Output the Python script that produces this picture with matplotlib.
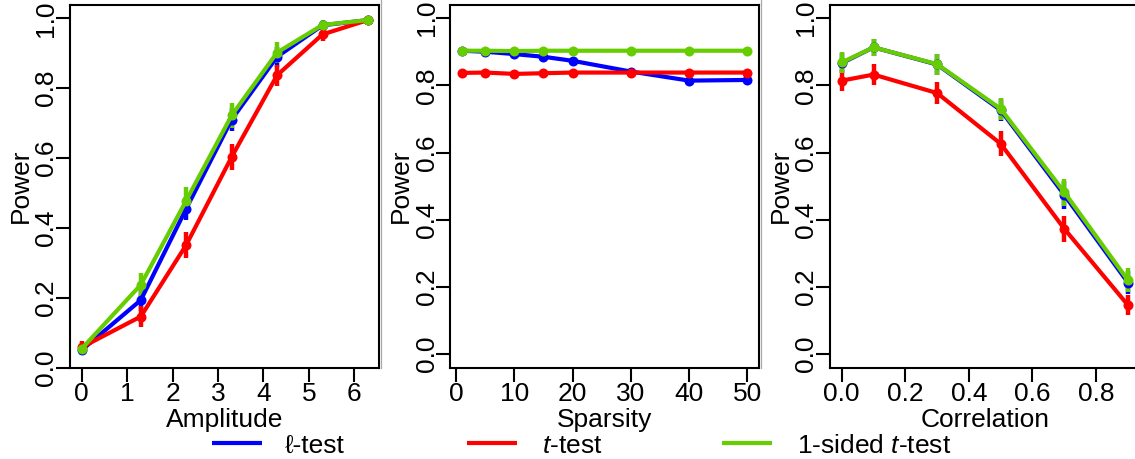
import matplotlib
matplotlib.use('Agg')
import matplotlib.pyplot as plt
from matplotlib.lines import Line2D
from matplotlib.ticker import FixedLocator, StrMethodFormatter

plt.rcParams['font.family'] = ['Liberation Sans', 'DejaVu Sans']
plt.rcParams['mathtext.fontset'] = 'custom'
plt.rcParams['mathtext.it'] = 'Liberation Sans:italic'
plt.rcParams['mathtext.rm'] = 'Liberation Sans'

# ---------------- data ----------------
series_names = [r'ℓ-test', r'$t$-test', r'1-sided $t$-test']
series_colors = ['#0000FF', '#FF0000', '#66CD00']

amp_x = [0, 1.3, 2.3, 3.3, 4.3, 5.3, 6.3]
amp_ell = [0.050, 0.193, 0.455, 0.710, 0.890, 0.980, 0.995]
amp_t = [0.058, 0.146, 0.351, 0.603, 0.837, 0.954, 0.995]
amp_one = [0.054, 0.237, 0.478, 0.722, 0.902, 0.981, 0.995]
amp_ell_err = [0.015, 0.030, 0.033, 0.034, 0.028, 0.012, 0.005]
amp_t_err = [0.018, 0.031, 0.038, 0.038, 0.030, 0.018, 0.005]
amp_one_err = [0.016, 0.033, 0.038, 0.036, 0.029, 0.014, 0.005]

sp_x = [1, 5, 10, 15, 20, 30, 40, 50]
sp_ell = [0.903, 0.900, 0.893, 0.885, 0.873, 0.841, 0.814, 0.816]
sp_t = [0.837, 0.838, 0.834, 0.836, 0.838, 0.838, 0.838, 0.838]
sp_one = [0.903, 0.903, 0.902, 0.903, 0.903, 0.903, 0.903, 0.903]

cor_x = [0.0, 0.1, 0.3, 0.5, 0.7, 0.9]
cor_ell = [0.866, 0.913, 0.862, 0.726, 0.474, 0.213]
cor_t = [0.814, 0.832, 0.777, 0.626, 0.373, 0.146]
cor_one = [0.868, 0.913, 0.863, 0.730, 0.482, 0.220]
cor_ell_err = [0.030, 0.025, 0.031, 0.033, 0.042, 0.035]
cor_t_err = [0.031, 0.031, 0.034, 0.037, 0.038, 0.030]
cor_one_err = [0.030, 0.025, 0.031, 0.033, 0.040, 0.035]

amp_ticks = [0, 1, 2, 3, 4, 5, 6]
sp_ticks = [0, 10, 20, 30, 40, 50]
cor_ticks = [0.0, 0.2, 0.4, 0.6, 0.8]
power_ticks = [0.0, 0.2, 0.4, 0.6, 0.8, 1.0]

# ---------------- layout ----------------
W, H = 1135, 459
DPI = 100
FS = 19
LW = 3.0
fig = plt.figure(figsize=(W / DPI, H / DPI), dpi=DPI)

TOP_PX, BOT_PX = 4.7, 367.5


def add_axes_px(left_px, right_px):
    return fig.add_axes([left_px / W, 1 - BOT_PX / H,
                         (right_px - left_px) / W, (BOT_PX - TOP_PX) / H])


def style(ax, xlabel, xticks, xfmt, xlim, ylim, left_px, right_px):
    ax.set_xlim(*xlim)
    ax.set_ylim(*ylim)
    ax.xaxis.set_major_locator(FixedLocator(xticks))
    ax.xaxis.set_major_formatter(StrMethodFormatter(xfmt))
    ax.yaxis.set_major_locator(FixedLocator(power_ticks))
    ax.yaxis.set_major_formatter(StrMethodFormatter('{x:.1f}'))
    for sp in ax.spines.values():
        sp.set_linewidth(1.5)
    ax.tick_params(axis='both', direction='out', length=10, width=1.5,
                   labelsize=FS, colors='black')
    ax.tick_params(axis='x', pad=0.5)
    ax.tick_params(axis='y', pad=-1.5, labelrotation=90)
    for lab in ax.get_yticklabels():
        lab.set_va('center')
    ax.set_xlabel(xlabel, fontsize=FS)
    ax.set_ylabel('Power', fontsize=FS)
    w_px = right_px - left_px
    h_px = BOT_PX - TOP_PX
    ax.xaxis.set_label_coords(0.5, (BOT_PX - 426.7) / h_px)
    ax.xaxis.label.set_va('baseline')
    ax.yaxis.set_label_coords(-37.5 / w_px, 0.5)
    ax.yaxis.label.set_va('bottom')


def draw(ax, x, ys, errs):
    for y, e, c in zip(ys, errs, series_colors):
        if e is None:
            ax.plot(x, y, '-o', color=c, lw=LW, ms=7.2, mew=0, clip_on=False)
        else:
            ax.errorbar(x, y, yerr=e, fmt='-o', color=c, lw=LW, ms=7.2, mew=0,
                        elinewidth=3.2, capsize=0, clip_on=False)


def xlim_r(x):
    r = (max(x) - min(x)) * 0.04
    return (min(x) - r, max(x) + r)


# Panel 1: amplitude
xl1 = xlim_r(amp_x)
p1 = (70.3, 379.4)
ax1 = add_axes_px(*p1)
draw(ax1, amp_x, [amp_ell, amp_t, amp_one], [amp_ell_err, amp_t_err, amp_one_err])
style(ax1, 'Amplitude', amp_ticks, '{x:.0f}', xl1, (0.0, 1.039), *p1)

# Panel 2: sparsity
xl2 = xlim_r(sp_x)
p2 = (450.4, 758.8)
ax2 = add_axes_px(*p2)
draw(ax2, sp_x, [sp_ell, sp_t, sp_one], [None, None, None])
style(ax2, 'Sparsity', sp_ticks, '{x:.0f}', xl2, (-0.04, 1.04), *p2)

# Panel 3: correlation
xl3 = xlim_r(cor_x)
p3 = (830.3, 1139.3)
ax3 = add_axes_px(*p3)
draw(ax3, cor_x, [cor_ell, cor_t, cor_one], [cor_ell_err, cor_t_err, cor_one_err])
style(ax3, 'Correlation', cor_ticks, '{x:.1f}', xl3, (-0.04, 1.04), *p3)

# faint panel separators from the original composite
for xs in (381.0, 760.7):
    fig.add_artist(Line2D([xs / W, xs / W], [1, 1 - 368 / H], color='#a8a8a8', lw=0.9))

# ---------------- legend ----------------
leg_line_x = [211.7, 466.7, 721.7]
leg_text_x = [285.0, 541.7, 796.7]
for lx, tx, name, c in zip(leg_line_x, leg_text_x, series_names, series_colors):
    fig.add_artist(Line2D([lx / W, (lx + 50) / W], [1 - 443 / H, 1 - 443 / H],
                          color=c, lw=LW, solid_capstyle='butt'))
    fig.text(tx / W, 1 - 453.3 / H, name, fontsize=FS, va='baseline', ha='left')

fig.savefig('out.png', dpi=DPI)
